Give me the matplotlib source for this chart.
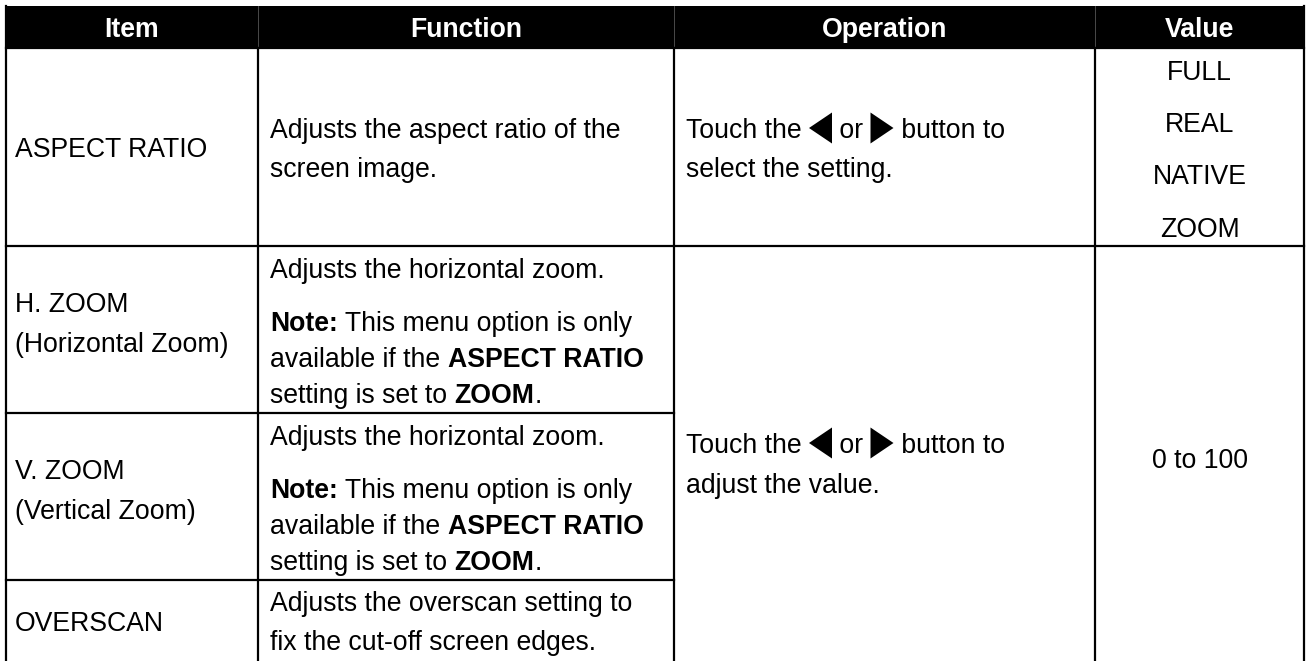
import matplotlib
matplotlib.use("Agg")
import matplotlib.pyplot as plt
from matplotlib.patches import Rectangle, Polygon

# ---------------- data ----------------
headers = ["Item", "Function", "Operation", "Value"]
items = [["ASPECT RATIO"], ["H. ZOOM", "(Horizontal Zoom)"], ["V. ZOOM", "(Vertical Zoom)"], ["OVERSCAN"]]
functions = [
    [[("Adjusts the aspect ratio of the", False)], [("screen image.", False)]],
    [[("Adjusts the horizontal zoom.", False)],
     [("Note:", True), (" This menu option is only", False)],
     [("available if the ", False), ("ASPECT RATIO", True)],
     [("setting is set to ", False), ("ZOOM", True), (".", False)]],
    [[("Adjusts the horizontal zoom.", False)],
     [("Note:", True), (" This menu option is only", False)],
     [("available if the ", False), ("ASPECT RATIO", True)],
     [("setting is set to ", False), ("ZOOM", True), (".", False)]],
    [[("Adjusts the overscan setting to", False)], [("fix the cut-off screen edges.", False)]],
]
operations = [
    [[("Touch the ", False), ("<TL>", False), (" or ", False), ("<TR>", False), (" button to", False)],
     [("select the setting.", False)]],
    [[("Touch the ", False), ("<TL>", False), (" or ", False), ("<TR>", False), (" button to", False)],
     [("adjust the value.", False)]],
]
values = [["FULL", "REAL", "NATIVE", "ZOOM"], ["0 to 100"]]

# ---------------- layout (pixels) ----------------
W, H = 1308, 661
col_x = [6, 258, 674, 1095, 1304]
head_top, head_bot = 6, 48
row_y = [48, 246, 413, 580, 661]
FS = 19.2          # pt
CAP = 0.716 * FS * 100 / 72   # cap height in px
FONT = "Liberation Sans"

item_y = [[147], [302, 342], [469, 509], [621]]
func_y = [[128, 167], [268, 321, 357, 393], [435, 488, 524, 560], [601, 640]]
op_y = [[128, 167], [443, 483]]
val_y = [[70, 122, 174, 227], [458]]

fig = plt.figure(figsize=(W / 100, H / 100), dpi=100)
ax = fig.add_axes([0, 0, 1, 1])
ax.set_xlim(0, W)
ax.set_ylim(H, 0)
ax.axis("off")
renderer = fig.canvas.get_renderer()


def text_width(s, bold):
    t1 = ax.text(0, 0, "I" + s + "I", fontsize=FS, family=FONT, fontweight="bold" if bold else "normal")
    t2 = ax.text(0, 0, "II", fontsize=FS, family=FONT, fontweight="bold" if bold else "normal")
    w = t1.get_window_extent(renderer).width - t2.get_window_extent(renderer).width
    t1.remove(); t2.remove()
    return w


TRI_W, TRI_H = 23, 31


def draw_runs(x, yc, runs, color="black"):
    base = yc + CAP / 2
    for s, bold in runs:
        if s in ("<TL>", "<TR>"):
            top, bot = yc - TRI_H / 2, yc + TRI_H / 2
            if s == "<TL>":
                pts = [(x + TRI_W, top), (x + TRI_W, bot), (x, yc)]
            else:
                pts = [(x, top), (x, bot), (x + TRI_W, yc)]
            ax.add_patch(Polygon(pts, closed=True, color=color, lw=0))
            x += TRI_W
            continue
        ax.text(x, base, s, fontsize=FS, family=FONT, fontweight="bold" if bold else "normal",
                color=color, va="baseline", ha="left")
        x += text_width(s, bold)


# header
ax.add_patch(Rectangle((col_x[0], head_top), col_x[-1] - col_x[0], head_bot - head_top,
                       facecolor="black", edgecolor="none"))
for cx in col_x[1:-1]:
    ax.plot([cx, cx], [head_top, head_bot], color="#555555", lw=0.6)
for i, h in enumerate(headers):
    xc = (col_x[i] + col_x[i + 1]) / 2
    ax.text(xc, (head_top + head_bot) / 2 + CAP / 2, h, fontsize=FS, family=FONT, fontweight="bold",
            color="white", ha="center", va="baseline")

# grid lines
LW = 1.6
ax.plot([col_x[0], col_x[0]], [head_top, H], color="black", lw=LW)
ax.plot([col_x[-1], col_x[-1]], [head_top, H], color="black", lw=LW)
for cx in col_x[1:-1]:
    ax.plot([cx, cx], [head_bot, H], color="black", lw=LW)
ax.plot([col_x[0], col_x[-1]], [head_bot, head_bot], color="black", lw=LW)
ax.plot([col_x[0], col_x[-1]], [row_y[1], row_y[1]], color="black", lw=LW)
for ry in row_y[2:4]:
    ax.plot([col_x[0], col_x[2]], [ry, ry], color="black", lw=LW)

PAD = 12
for r, lines in enumerate(items):
    for s, yc in zip(lines, item_y[r]):
        draw_runs(col_x[0] + PAD - 3, yc, [(s, False)])
for r, lines in enumerate(functions):
    for runs, yc in zip(lines, func_y[r]):
        draw_runs(col_x[1] + PAD, yc, runs)
for r, lines in enumerate(operations):
    for runs, yc in zip(lines, op_y[r]):
        draw_runs(col_x[2] + PAD, yc, runs)
for r, lines in enumerate(values):
    xc = (col_x[3] + col_x[4]) / 2
    for s, yc in zip(lines, val_y[r]):
        ax.text(xc, yc + CAP / 2, s, fontsize=FS, family=FONT, ha="center", va="baseline")

fig.savefig("out.png", dpi=100, facecolor="white")
